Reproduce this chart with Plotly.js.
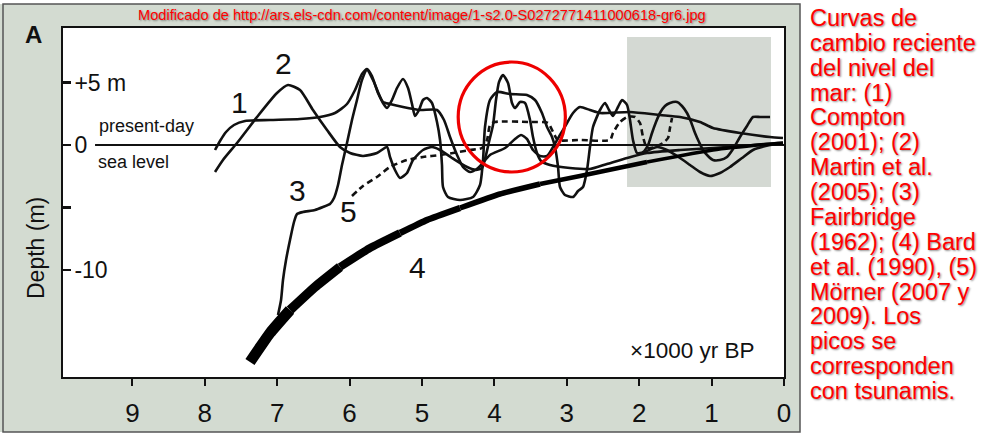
<!DOCTYPE html>
<html><head><meta charset="utf-8">
<script src="https://cdn.plot.ly/plotly-3.0.1.min.js"></script>
<style>html,body{margin:0;padding:0;background:#fff;}#chart{width:1002px;height:436px;}</style>
</head><body><div id="chart"></div>
<script>
// Curve 1 - Compton (2001)
const comptonX = [7.859,7.790,7.707,7.597,7.445,7.099,6.685,6.409,6.202,6.036,5.925,5.829,5.760,5.691,5.608,5.539,5.442,5.262,5.028,4.793,4.696,4.613,4.516,4.434,4.337,4.226,4.061,3.853,3.715,3.632,3.550,3.467,3.370,3.273,3.190,3.094,2.997,2.914,2.818,2.680,2.541,2.127,1.713,1.436,1.160,0.981,0.608,0.193,0.014];
const comptonY = [-0.40,0.32,1.04,1.60,1.92,2.00,2.08,2.24,2.56,3.28,4.40,5.68,6.08,5.52,4.16,3.44,3.28,3.04,2.80,2.80,2.00,0.64,-0.80,-1.76,-2.16,-1.84,-0.80,-0.24,0.48,0.80,0.48,-0.40,-0.88,-0.88,-0.16,0.80,1.76,2.56,3.04,2.80,2.56,2.64,2.40,2.24,1.84,1.36,0.96,0.64,0.56];
// Curve 2 - Martin et al. (2005)
const martinX = [7.859,7.749,7.555,7.279,7.003,6.851,6.685,6.506,6.312,6.133,5.994,5.815,5.622,5.483,5.442,5.373,5.304,5.207,5.124,4.986,4.862,4.751,4.586,4.406,4.254,4.171,4.116,4.075,4.019,3.978,3.936,3.881,3.812,3.757,3.715,3.646,3.577,3.508,3.467,3.412,3.356,3.232,2.956,2.680,2.445,2.168,1.892,1.436,0.981,0.608,0.193,0.014,null,1.947,1.754,1.616,1.436,1.298,1.160,1.022,0.884,0.746,0.580,0.428,0.193,0.014];
const martinY = [-2.16,-1.20,0.16,2.24,4.16,4.80,4.40,2.80,1.20,-0.16,-0.64,-0.88,-0.64,-0.16,-0.96,-2.00,-2.64,-2.24,-1.20,-0.40,-0.16,-0.40,-1.04,-1.68,-2.00,-1.84,-0.80,0.24,1.60,3.60,5.04,5.60,4.96,3.36,2.96,3.44,3.36,2.00,0.64,-0.64,-1.28,-1.60,-1.84,-1.92,-1.52,-1.04,-0.64,-0.40,-0.24,-0.08,0.08,0.16,null,-0.64,-0.16,-0.40,-1.04,-1.60,-2.16,-2.48,-2.24,-1.76,-1.04,-0.40,0.00,0.16];
// Curve 3 - Fairbridge (1962)
const fairbridgeX = [6.989,6.947,6.920,6.878,6.823,6.768,6.726,6.644,6.478,6.367,6.271,6.215,6.160,6.105,6.036,5.967,5.898,5.829,5.760,5.677,5.608,5.539,5.483,5.414,5.345,5.262,5.193,5.138,5.097,5.041,4.986,4.931,4.862,4.793,4.751,4.724,4.710,4.641,4.475,4.296,4.199,4.157,4.130,4.061,3.964,3.785,3.550,3.439,3.343,3.273,3.204,3.163,3.121,3.094,3.025,2.914,2.845,2.776,2.721,2.680,2.638,2.541,2.472,2.417,2.362,2.293,2.237,2.168,2.127,2.086,2.030,1.947,1.878,1.823,1.768,1.713,1.644,1.575,1.478,1.409,1.340,1.284,1.229,1.174,1.119,1.050,0.981,0.884,0.787,0.704,0.608,0.511,0.428,0.331,0.193];
const fairbridgeY = [-13.60,-12.40,-10.80,-9.20,-7.60,-6.16,-5.52,-5.36,-5.20,-4.96,-4.72,-4.24,-3.20,-1.60,0.16,2.00,3.60,5.20,6.00,5.20,4.24,3.36,2.96,3.60,4.56,5.28,4.56,3.28,2.32,2.80,3.60,3.76,3.36,1.84,0.40,-1.60,-3.36,-4.16,-4.40,-4.16,-3.20,-1.20,1.44,3.60,4.24,4.08,4.00,3.60,2.56,1.44,0.64,-0.16,-1.76,-3.36,-4.00,-4.16,-3.68,-3.36,-2.00,-0.16,1.44,2.80,3.36,2.80,2.32,3.04,3.60,3.20,2.00,0.40,-0.64,-0.56,0.00,0.96,1.84,2.56,3.12,3.36,3.44,3.12,2.56,1.84,0.96,0.24,-0.40,-0.88,-1.20,-1.20,-0.96,-0.32,0.64,1.52,2.24,2.24,2.24];
// Curve 4 - Bard et al. (1990)
const bardX = [7.376,7.099,6.823,6.478,6.133,5.718,5.304,4.931,4.475,3.923,3.370,2.818,1.892,0.981,0.193,0.014];
const bardY = [-17.36,-15.04,-13.20,-11.36,-9.76,-8.24,-7.04,-6.00,-5.04,-3.92,-3.12,-2.48,-1.36,-0.40,0.08,0.16];
// Curve 5 - Mörner (2007, 2009)
const mornerX = [5.967,5.815,5.622,5.442,5.207,4.986,4.751,4.572,4.337,4.171,4.102,4.061,3.992,3.508,3.260,3.190,3.122,2.818,2.403,2.362,2.265,2.168,2.058,1.989,1.947,1.892,1.782,1.671,1.602,1.575,1.547];
const mornerY = [-4.08,-3.28,-2.56,-1.76,-1.20,-0.96,-0.80,-0.64,-0.40,-0.24,0.40,1.60,1.84,1.84,1.76,1.04,0.40,0.40,0.40,0.96,1.84,2.24,2.24,1.76,0.64,-0.24,-0.16,0.16,0.56,1.36,2.16];
// present-day sea level
const seaX = [9.516, 0];
const seaY = [0, 0];
// axes
const xTickVals = [9,8,7,6,5,4,3,2,1,0];
const yTickVals = [5,0,-5,-10];
const yTickText = ['+5 m','0','','-10'];
const curveLabels = ['1','2','3','4','5'];
const noteLines = ['Curvas de','cambio reciente','del nivel del','mar: (1)','Compton','(2001); (2)','Martin et al.','(2005); (3)','Fairbridge','(1962); (4) Bard','et al. (1990), (5)','Mörner (2007 y','2009). Los','picos se','corresponden','con tsunamis.'];

const SANS = 'Liberation Sans, Arial, sans-serif';
const L = 63, R = 784, T = 28, B = 377;
const px = v => (v - L) / (R - L);
const py = v => (B - v) / (B - T);

const thin = (x, y, extra) => Object.assign({x, y, type:'scatter', mode:'lines', hoverinfo:'skip', showlegend:false,
  line:{color:'#111', width:2.6, shape:'spline', smoothing:0.6}, connectgaps:false}, extra||{});

const traces = [
  thin(seaX, seaY, {line:{color:'#111', width:2.2}}),
  thin(comptonX, comptonY),
  thin(martinX, martinY),
  thin(fairbridgeX, fairbridgeY),
  thin(mornerX, mornerY, {line:{color:'#111', width:2.6, dash:'6px,4px', shape:'spline', smoothing:0.6}})
];
const bardSegs = [[0,2,11],[2,4,9.5],[4,6,8],[6,8,6.5],[8,10,5.5],[10,12,4.5],[12,15,3.5]];
bardSegs.forEach(s => traces.push(thin(bardX.slice(s[0], s[1]+1), bardY.slice(s[0], s[1]+1),
  {line:{color:'#000', width:s[2], shape:'spline', smoothing:0.4}})));

const ann = [];
const add = (text, x, y, font, extra) => ann.push(Object.assign({text, xref:'paper', yref:'paper', x:px(x), y:py(y),
  xanchor:'center', yanchor:'middle', showarrow:false, font}, extra||{}));
const blk = (s) => ({family:SANS, size:s, color:'#111'});
add(curveLabels[0], 239, 102, blk(30));
add(curveLabels[1], 283, 63, blk(30));
add(curveLabels[2], 297, 190, blk(30));
add(curveLabels[3], 417, 267, blk(30));
add(curveLabels[4], 348, 211, blk(30));
add('present-day', 146, 126, blk(18));
add('sea level', 133, 162, blk(18));
add('×1000 yr BP', 692, 350, blk(22.5));
add('A', 33, 35, {family:SANS, size:24, color:'#111', weight:700});
add('Depth (m)', 36, 248, {family:SANS, size:23, color:'#111'}, {textangle:-90});
const red = (s) => ({family:SANS, size:s, color:'#ff0000', shadow:'1px 1px 2px rgba(0,0,0,0.45)'});
add('Modificado de http://ars.els-cdn.com/content/image/1-s2.0-S0272771411000618-gr6.jpg', 422, 15, red(14.6));
noteLines.forEach((t, i) => add(t, 808, 18 + 24.87*i, red(23.5), {xanchor:'left'}));

const layout = {
  width:1002, height:436,
  margin:{l:L, r:1002-R, t:T, b:436-B, pad:0},
  paper_bgcolor:'#d3dbd1', plot_bgcolor:'#ffffff',
  showlegend:false,
  xaxis:{range:[(R-L)/72.4, 0], autorange:false, tickvals:xTickVals, ticks:'outside', ticklen:7, tickwidth:2,
    tickcolor:'#111', showline:true, linewidth:2, linecolor:'#111', mirror:true, showgrid:false, zeroline:false,
    tickfont:{family:SANS, size:26, color:'#111'}, ticklabelstandoff:5},
  yaxis:{range:[(145-B)/12.5, (145-T)/12.5], autorange:false, tickvals:yTickVals, ticktext:yTickText,
    ticks:'inside', ticklen:8, tickwidth:2.5, tickcolor:'#111', ticklabelposition:'inside', ticklabelstandoff:5,
    showline:true, linewidth:2, linecolor:'#111', mirror:true, showgrid:false, zeroline:false,
    tickfont:{family:SANS, size:23, color:'#111'}},
  shapes:[
    {type:'rect', xref:'paper', yref:'paper', x0:px(800), x1:px(1003), y0:py(437), y1:py(-1), fillcolor:'#ffffff', line:{width:0}, layer:'below'},
    {type:'rect', xref:'paper', yref:'paper', x0:px(-1), x1:px(800), y0:py(432), y1:py(437), fillcolor:'#ffffff', line:{width:0}, layer:'below'},
    {type:'rect', xref:'paper', yref:'paper', x0:px(-1), x1:px(800), y0:py(4), y1:py(-1), fillcolor:'#ffffff', line:{width:0}, layer:'below'},
    {type:'rect', xref:'paper', yref:'paper', x0:px(3), x1:px(800), y0:py(432), y1:py(4), line:{color:'#555', width:1.5}, layer:'below'},
    {type:'rect', xref:'x', yref:'y', x0:2.168, x1:0.180, y0:-3.36, y1:8.64, fillcolor:'#d4d9d3', line:{width:0}, layer:'below'},
    {type:'circle', xref:'x', yref:'y', x0:4.50, x1:3.02, y0:-2.16, y1:6.64, line:{color:'#ee0000', width:3.2}, layer:'above'}
  ],
  annotations:ann
};
Plotly.newPlot('chart', traces, layout, {staticPlot:true, displayModeBar:false});
</script></body></html>
